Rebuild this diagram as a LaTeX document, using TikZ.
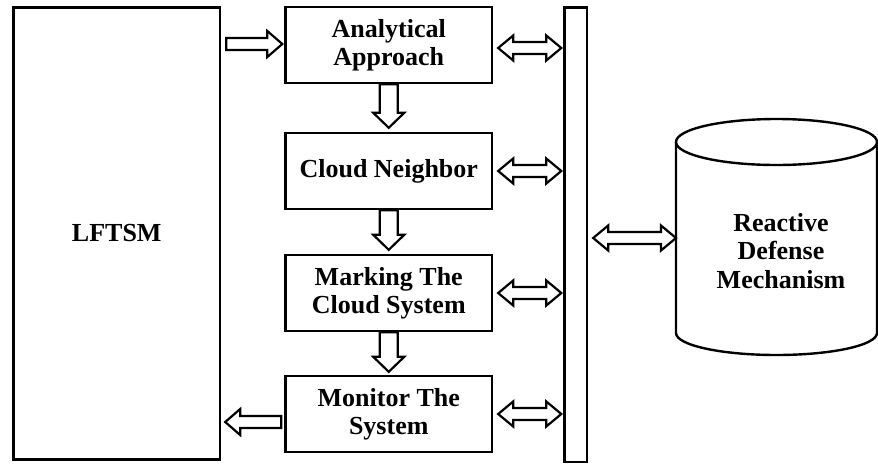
\documentclass[tikz,border=0pt]{standalone}
\usepackage{fontspec}
\setmainfont{Liberation Serif}
\usetikzlibrary{calc}
\tikzset{
  box/.style={draw, line width=2.4pt, rectangle, inner sep=0pt, minimum width=206.5pt, minimum height=76pt, align=center, font=\bfseries\fontsize{26}{28}\selectfont},
  blk/.style={draw, fill=white, line width=2.2pt, line join=miter},
  lbl/.style={align=center, font=\bfseries\fontsize{26}{28.5}\selectfont}
}
\newcommand{\rarr}[3]{\draw[blk] let \p1=#1, \p2=#2, \p3=#3 in
  (\x1,\y3+6pt) -- (\x2-15pt,\y3+6pt) -- (\x2-15pt,\y3+13pt) -- (\x2,\y3) -- (\x2-15pt,\y3-13pt) -- (\x2-15pt,\y3-6pt) -- (\x1,\y3-6pt) -- cycle;}
\newcommand{\larr}[3]{\draw[blk] let \p1=#1, \p2=#2, \p3=#3 in
  (\x1,\y3+6pt) -- (\x2+15pt,\y3+6pt) -- (\x2+15pt,\y3+13pt) -- (\x2,\y3) -- (\x2+15pt,\y3-13pt) -- (\x2+15pt,\y3-6pt) -- (\x1,\y3-6pt) -- cycle;}
\newcommand{\dblarr}[3]{\draw[blk] let \p1=#1, \p2=#2, \p3=#3 in
  (\x1,\y3) -- (\x1+15pt,\y3+12.5pt) -- (\x1+15pt,\y3+6pt) -- (\x2-15pt,\y3+6pt) -- (\x2-15pt,\y3+12.5pt) -- (\x2,\y3) -- (\x2-15pt,\y3-12.5pt) -- (\x2-15pt,\y3-6pt) -- (\x1+15pt,\y3-6pt) -- (\x1+15pt,\y3-12.5pt) -- cycle;}
\newcommand{\darr}[2]{\draw[blk] let \p1=#1, \p2=#2 in
  (\x1-9pt,\y1) -- (\x1-9pt,\y2+15pt) -- (\x1-15.5pt,\y2+15pt) -- (\x1,\y2) -- (\x1+15.5pt,\y2+15pt) -- (\x1+9pt,\y2+15pt) -- (\x1+9pt,\y1) -- cycle;}
\begin{document}
\begin{tikzpicture}[x=1pt, y=-1pt]
\useasboundingbox (0,0) rectangle (878,464);
% main boxes
\node[box, minimum height=452pt] (L) at (116.75,233.5) {LFTSM};
\node[box] (A) at (388.75,45) {Analytical\\Approach};
\node[box] (C) at (388.75,171) {Cloud Neighbor};
\node[box] (K) at (388.75,293) {Marking The\\Cloud System};
\node[box] (M) at (388.75,414) {Monitor The\\System};
\node[draw, line width=2.4pt, rectangle, inner sep=0pt, minimum width=22.5pt, minimum height=454.5pt] (bar) at (575.75,234.75) {};
% cylinder
\draw[line width=2.4pt, fill=white] (676,142) -- (676,333) arc[start angle=180, end angle=360, x radius=100.5pt, y radius=22pt] -- (877,142);
\draw[line width=2.4pt, fill=white] (776.5,142) ellipse [x radius=100.5pt, y radius=23pt];
\coordinate (cylL) at (676,238);
\node[lbl] (R) at (781,251) {Reactive\\Defense\\Mechanism};
% arrows
\rarr{([xshift=5pt]L.east)}{([xshift=-2pt]A.west)}{([yshift=1pt]A.west)}
\larr{([xshift=-3pt]M.west)}{([xshift=4pt]L.east)}{([yshift=-8pt]M.west)}
\darr{(A.south)}{([yshift=4pt]C.north)}
\darr{(C.south)}{([yshift=4pt]K.north)}
\darr{(K.south)}{([yshift=3pt]M.north)}
\dblarr{([xshift=5pt]A.east)}{([xshift=-2pt]bar.west)}{([yshift=-3pt]A.east)}
\dblarr{([xshift=5pt]C.east)}{([xshift=-2pt]bar.west)}{(C.east)}
\dblarr{([xshift=5pt]K.east)}{([xshift=-2pt]bar.west)}{(K.east)}
\dblarr{([xshift=5pt]M.east)}{([xshift=-2pt]bar.west)}{(M.east)}
\dblarr{([xshift=5pt]bar.east)}{(cylL)}{(cylL)}
\end{tikzpicture}
\end{document}
